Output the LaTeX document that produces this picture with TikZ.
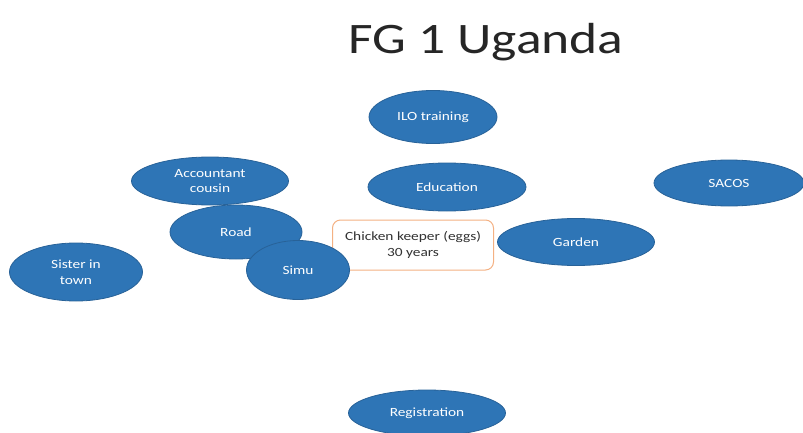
\documentclass[tikz,border=0pt]{standalone}
\usepackage{fontspec}
\setmainfont{Carlito}[FakeStretch=1.23]
\usetikzlibrary{shapes.geometric}
\definecolor{blu}{RGB}{46,117,182}
\definecolor{bluedge}{RGB}{40,98,152}
\definecolor{orng}{RGB}{244,177,131}
\definecolor{dgray}{RGB}{50,50,50}
\tikzset{
  oval/.style={ellipse, fill=blu, draw=bluedge, line width=0.8pt, text=white,
    font=\fontsize{12.5}{15.5}\selectfont, inner sep=0pt, align=center},
  centerbox/.style={rectangle, rounded corners=8pt, draw=orng, fill=white, line width=1pt,
    text=dgray, font=\fontsize{12.5}{16}\selectfont, inner sep=0pt, align=center,
    minimum width=161pt, minimum height=50pt},
  titletext/.style={font=\fontsize{43.5}{48}\selectfont, text=black!85}
}
\begin{document}
\begin{tikzpicture}[x=1pt,y=-1pt]
\useasboundingbox (0,0) rectangle (803,433);
\node[titletext] (title) at (486,42) {FG 1 Uganda};
\node[oval, minimum width=128pt, minimum height=53pt] (ilo) at (433,117) {ILO training};
\node[oval, minimum width=158pt, minimum height=48pt] (edu) at (447,187) {Education};
\node[oval, minimum width=150pt, minimum height=46pt] (sacos) at (729,183) {SACOS};
\node[oval, minimum width=157pt, minimum height=48pt] (acc) at (210,181) {Accountant\\cousin};
\node[oval, minimum width=132pt, minimum height=54pt] (road) at (236,232) {Road};
\node[oval, minimum width=133pt, minimum height=58pt] (sister) at (76,272) {Sister in\\town};
\node[centerbox] (chick) at (413,245) {Chicken keeper (eggs)\\30 years};
\node[oval, minimum width=103pt, minimum height=59pt] (simu) at (298,270) {Simu};
\node[oval, minimum width=157pt, minimum height=47pt] (garden) at (576,242) {Garden};
\node[oval, minimum width=157pt, minimum height=46pt] (reg) at (427,413) {Registration};
\end{tikzpicture}
\end{document}
